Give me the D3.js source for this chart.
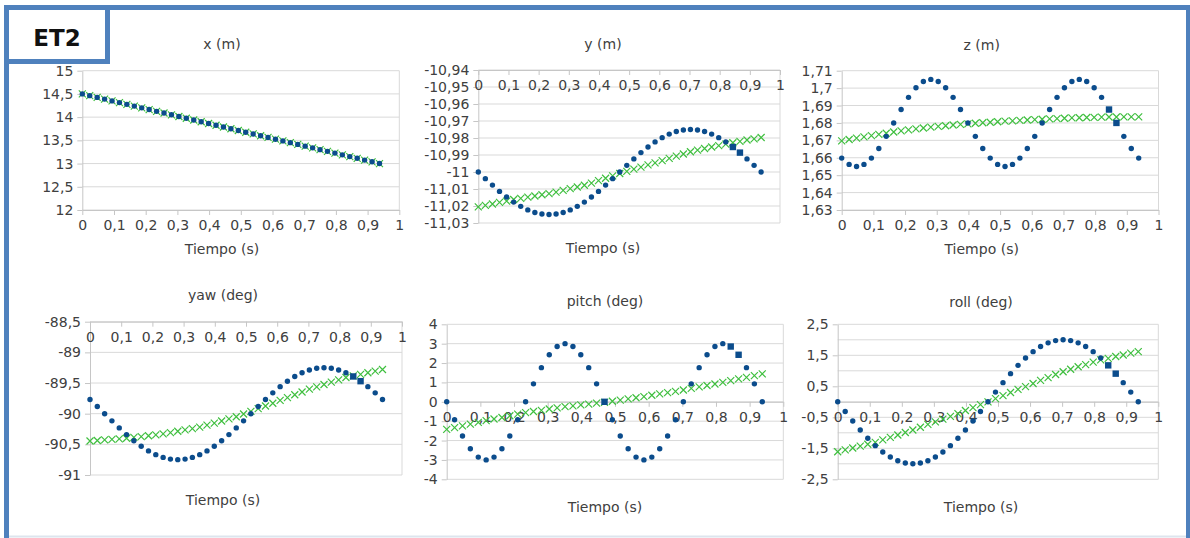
<!DOCTYPE html>
<html><head><meta charset="utf-8">
<script src="https://cdn.jsdelivr.net/npm/d3@7"></script>
<style>
html,body{margin:0;padding:0;background:#fff;}
svg{display:block;}
text{font-family:"DejaVu Sans",sans-serif;fill:#404040;}
</style></head>
<body>
<svg id="chart" width="1190" height="538"></svg>
<script>
// ---------- DATA ----------
const time = [0, 0.0234, 0.0469, 0.0703, 0.0938, 0.1172, 0.1406, 0.1641, 0.1875, 0.2109, 0.2344, 0.2578, 0.2813, 0.3047, 0.3281, 0.3516, 0.375, 0.3984, 0.4219, 0.4453, 0.4688, 0.4922, 0.5156, 0.5391, 0.5625, 0.5859, 0.6094, 0.6328, 0.6563, 0.6797, 0.7031, 0.7266, 0.75, 0.7734, 0.7969, 0.8203, 0.8438, 0.8672, 0.8906, 0.9141, 0.9375];

const xBlue = [14.5, 14.463, 14.425, 14.388, 14.35, 14.313, 14.275, 14.238, 14.2, 14.163, 14.125, 14.088, 14.05, 14.013, 13.975, 13.938, 13.9, 13.863, 13.825, 13.788, 13.75, 13.713, 13.675, 13.638, 13.6, 13.563, 13.525, 13.488, 13.45, 13.413, 13.375, 13.338, 13.3, 13.263, 13.225, 13.188, 13.15, 13.113, 13.075, 13.038, 13.0];
const xGreen = [14.5, 14.463, 14.425, 14.388, 14.35, 14.313, 14.275, 14.238, 14.2, 14.163, 14.125, 14.088, 14.05, 14.013, 13.975, 13.938, 13.9, 13.863, 13.825, 13.788, 13.75, 13.713, 13.675, 13.638, 13.6, 13.563, 13.525, 13.488, 13.45, 13.413, 13.375, 13.338, 13.3, 13.263, 13.225, 13.188, 13.15, 13.113, 13.075, 13.038, 13.0];

const yBlue = [-11.0, -11.0039, -11.0077, -11.0114, -11.0147, -11.0177, -11.0202, -11.0223, -11.0238, -11.0247, -11.025, -11.0247, -11.0238, -11.0223, -11.0202, -11.0177, -11.0147, -11.0114, -11.0077, -11.0039, -11.0, -10.9961, -10.9923, -10.9886, -10.9853, -10.9823, -10.9798, -10.9777, -10.9762, -10.9753, -10.975, -10.9753, -10.9762, -10.9777, -10.9798, -10.9823, -10.9853, -10.9886, -10.9923, -10.9961, -11.0];
const yGreen = [-11.0205, -11.0196, -11.0188, -11.0179, -11.0171, -11.0162, -11.0155, -11.0148, -11.0141, -11.0134, -11.0127, -11.0118, -11.0108, -11.0098, -11.0088, -11.0078, -11.0065, -11.0051, -11.0037, -11.0023, -11.0009, -10.9996, -10.9983, -10.9971, -10.9958, -10.9946, -10.9933, -10.992, -10.9907, -10.9894, -10.9881, -10.9871, -10.9862, -10.9853, -10.9845, -10.9836, -10.9828, -10.982, -10.9812, -10.9805, -10.9797];

const zBlue = [1.6598, 1.6562, 1.655, 1.6562, 1.6598, 1.6653, 1.6723, 1.68, 1.6877, 1.6947, 1.7002, 1.7038, 1.705, 1.7038, 1.7002, 1.6947, 1.6877, 1.68, 1.6723, 1.6653, 1.6598, 1.6562, 1.655, 1.6562, 1.6598, 1.6653, 1.6723, 1.68, 1.6877, 1.6947, 1.7002, 1.7038, 1.705, 1.7038, 1.7002, 1.6947, 1.6877, 1.68, 1.6723, 1.6653, 1.6598];
const zGreen = [1.6697, 1.6705, 1.6713, 1.672, 1.6727, 1.6734, 1.6741, 1.6748, 1.6754, 1.676, 1.6766, 1.6771, 1.6776, 1.678, 1.6784, 1.6788, 1.6792, 1.6795, 1.6798, 1.6801, 1.6804, 1.6807, 1.681, 1.6812, 1.6815, 1.6817, 1.6819, 1.6821, 1.6823, 1.6825, 1.6827, 1.6829, 1.683, 1.6831, 1.6832, 1.6833, 1.6834, 1.6834, 1.6835, 1.6835, 1.6835];

const yawBlue = [-89.768, -89.883, -90.0, -90.117, -90.232, -90.341, -90.441, -90.53, -90.607, -90.668, -90.713, -90.741, -90.75, -90.741, -90.713, -90.668, -90.607, -90.53, -90.441, -90.341, -90.232, -90.117, -90.0, -89.883, -89.768, -89.66, -89.559, -89.47, -89.393, -89.332, -89.287, -89.259, -89.25, -89.259, -89.287, -89.332, -89.393, -89.47, -89.559, -89.66, -89.768];
const yawGreen = [-90.446, -90.437, -90.428, -90.419, -90.41, -90.4, -90.387, -90.374, -90.36, -90.345, -90.33, -90.309, -90.287, -90.265, -90.243, -90.22, -90.187, -90.153, -90.119, -90.085, -90.05, -90.006, -89.962, -89.918, -89.874, -89.83, -89.784, -89.738, -89.692, -89.646, -89.6, -89.562, -89.524, -89.486, -89.448, -89.41, -89.384, -89.358, -89.332, -89.306, -89.28];

const pitchBlue = [0, -0.927, -1.763, -2.427, -2.853, -3, -2.853, -2.427, -1.763, -0.927, 0, 0.927, 1.763, 2.427, 2.853, 3, 2.853, 2.427, 1.763, 0.927, 0, -0.927, -1.763, -2.427, -2.853, -3, -2.853, -2.427, -1.763, -0.927, 0, 0.927, 1.763, 2.427, 2.853, 3, 2.853, 2.427, 1.763, 0.927, 0];
const pitchGreen = [-1.42, -1.33, -1.24, -1.15, -1.06, -0.97, -0.89, -0.81, -0.72, -0.64, -0.56, -0.5, -0.44, -0.37, -0.31, -0.25, -0.21, -0.16, -0.12, -0.07, -0.03, 0.03, 0.09, 0.15, 0.21, 0.27, 0.34, 0.41, 0.47, 0.54, 0.61, 0.69, 0.77, 0.84, 0.92, 1.0, 1.09, 1.18, 1.26, 1.35, 1.44];

const rollBlue = [0, -0.313, -0.618, -0.908, -1.176, -1.414, -1.618, -1.782, -1.902, -1.975, -2, -1.975, -1.902, -1.782, -1.618, -1.414, -1.176, -0.908, -0.618, -0.313, 0, 0.313, 0.618, 0.908, 1.176, 1.414, 1.618, 1.782, 1.902, 1.975, 2, 1.975, 1.902, 1.782, 1.618, 1.414, 1.176, 0.908, 0.618, 0.313, 0];
const rollGreen = [-1.61, -1.55, -1.49, -1.43, -1.37, -1.31, -1.23, -1.15, -1.07, -0.99, -0.91, -0.82, -0.73, -0.65, -0.56, -0.47, -0.38, -0.28, -0.19, -0.09, 0.0, 0.1, 0.2, 0.3, 0.4, 0.49, 0.59, 0.69, 0.78, 0.88, 0.97, 1.05, 1.13, 1.2, 1.28, 1.35, 1.4, 1.46, 1.51, 1.57, 1.62];

// indices drawn with square markers, per panel
const squareIdx = [[], [36, 37], [36, 37], [36, 37], [20, 36, 37], [36, 37]];

// tick values
const xTicks = [0, 0.1, 0.2, 0.3, 0.4, 0.5, 0.6, 0.7, 0.8, 0.9, 1];
const xTickLabels = ["0", "0,1", "0,2", "0,3", "0,4", "0,5", "0,6", "0,7", "0,8", "0,9", "1"];
const yTicksX = [12, 12.5, 13, 13.5, 14, 14.5, 15];
const yTicksY = [-11.03, -11.02, -11.01, -11, -10.99, -10.98, -10.97, -10.96, -10.95, -10.94];
const yTicksZ = [1.63, 1.64, 1.65, 1.66, 1.67, 1.68, 1.69, 1.7, 1.71];
const yTicksYaw = [-91, -90.5, -90, -89.5, -89, -88.5];
const yTicksPitch = [-4, -3, -2, -1, 0, 1, 2, 3, 4];
const yTicksRoll = [-2.5, -1.5, -0.5, 0.5, 1.5, 2.5];
const gridRoll = [-2.5, -2, -1.5, -1, -0.5, 0, 0.5, 1, 1.5, 2, 2.5];

const titles = ["x (m)", "y (m)", "z (m)", "yaw (deg)", "pitch (deg)", "roll (deg)"];
const xAxisTitle = "Tiempo (s)";
const badge = "ET2";

// ---------- LAYOUT ----------
const panels = [
  {title: titles[0], blue: xBlue, green: xGreen, dom: [12, 15], ticks: yTicksX, grid: yTicksX, cross: 12,
   L: 82.3, R: 399.3, T: 70.7, B: 210, cx: 222, ty: 44, xty: 249},
  {title: titles[1], blue: yBlue, green: yGreen, dom: [-11.03, -10.94], ticks: yTicksY, grid: yTicksY, cross: -10.94,
   L: 478.3, R: 780, T: 70, B: 223, cx: 603, ty: 44.3, xty: 248.3},
  {title: titles[2], blue: zBlue, green: zGreen, dom: [1.63, 1.71], ticks: yTicksZ, grid: yTicksZ, cross: 1.63,
   L: 841.7, R: 1158.5, T: 70.7, B: 210, cx: 981.7, ty: 45, xty: 249.3},
  {title: titles[3], blue: yawBlue, green: yawGreen, dom: [-91, -88.5], ticks: yTicksYaw, grid: yTicksYaw, cross: -88.5,
   L: 90, R: 402, T: 321.7, B: 475, cx: 223, ty: 295, xty: 500},
  {title: titles[4], blue: pitchBlue, green: pitchGreen, dom: [-4, 4], ticks: yTicksPitch, grid: yTicksPitch, cross: 0,
   L: 446.7, R: 783.3, T: 324.3, B: 479.3, cx: 605, ty: 300.7, xty: 506.7},
  {title: titles[5], blue: rollBlue, green: rollGreen, dom: [-2.5, 2.5], ticks: yTicksRoll, grid: gridRoll, cross: 0,
   L: 837.7, R: 1158.3, T: 324.3, B: 479.3, cx: 981, ty: 301.7, xty: 506.7}
];

const BLUE = "#0b4c8c", GREEN = "#3fbf3f", GRID = "#d9d9d9", AXIS = "#c6c6c6", FRAME = "#4f81bd";
const FS = 14;
const fmt = v => String(+v.toFixed(3)).replace(".", ",");

const svg = d3.select("#chart");
svg.append("rect").attr("width", 1190).attr("height", 538).attr("fill", "#fff");

panels.forEach((p, pi) => {
  const g = svg.append("g");
  const x = d3.scaleLinear().domain([0, 1]).range([p.L, p.R]);
  const y = d3.scaleLinear().domain(p.dom).range([p.B, p.T]);

  g.append("g").selectAll("line").data(p.grid).join("line")
    .attr("x1", p.L).attr("x2", p.R)
    .attr("y1", d => y(d)).attr("y2", d => y(d))
    .attr("stroke", GRID).attr("stroke-width", 1);
  g.append("line").attr("x1", p.R).attr("x2", p.R).attr("y1", p.T).attr("y2", p.B)
    .attr("stroke", GRID).attr("stroke-width", 1);

  const ya = g.append("g").attr("transform", `translate(${p.L},0)`)
    .call(d3.axisLeft(y).tickValues(p.ticks).tickFormat(fmt).tickSize(5).tickSizeOuter(0).tickPadding(4));
  ya.select(".domain").attr("stroke", AXIS);
  ya.selectAll(".tick line").attr("stroke", AXIS);
  ya.selectAll("text").attr("font-family", "DejaVu Sans").attr("font-size", FS).attr("fill", "#404040");

  const xa = g.append("g").attr("transform", `translate(0,${y(p.cross)})`)
    .call(d3.axisBottom(x).tickValues(xTicks).tickFormat((d, i) => xTickLabels[i]).tickSize(5).tickSizeOuter(0).tickPadding(5));
  xa.select(".domain").attr("stroke", AXIS);
  xa.selectAll(".tick line").attr("stroke", AXIS);
  xa.selectAll("text").attr("font-family", "DejaVu Sans").attr("font-size", FS).attr("fill", "#404040");

  g.append("g").selectAll("path").data(p.green).join("path")
    .attr("transform", (d, i) => `translate(${x(time[i])},${y(d)})`)
    .attr("d", "M-3.5,-3.5L3.5,3.5M-3.5,3.5L3.5,-3.5")
    .attr("stroke", GREEN).attr("stroke-width", 1.2).attr("fill", "none");

  const sq = squareIdx[pi];
  const bd = p.blue.map((v, i) => ({t: time[i], v, sq: sq.includes(i)}));
  g.append("g").selectAll("circle").data(bd.filter(d => !d.sq)).join("circle")
    .attr("cx", d => x(d.t)).attr("cy", d => y(d.v)).attr("r", 2.7).attr("fill", BLUE);
  g.append("g").selectAll("rect").data(bd.filter(d => d.sq)).join("rect")
    .attr("x", d => x(d.t) - 3.2).attr("y", d => y(d.v) - 3.2).attr("width", 6.4).attr("height", 6.4).attr("fill", BLUE);

  g.append("text").attr("x", p.cx).attr("y", p.ty).attr("dy", "0.36em").attr("text-anchor", "middle")
    .attr("font-size", FS).text(p.title);
  g.append("text").attr("x", p.cx).attr("y", p.xty).attr("dy", "0.36em").attr("text-anchor", "middle")
    .attr("font-size", FS).text(xAxisTitle);
});

// frame
svg.append("line").attr("x1", 9).attr("x2", 1186).attr("y1", 536.5).attr("y2", 536.5).attr("stroke", "#dde5ee").attr("stroke-width", 2);
svg.append("rect").attr("x", 4).attr("y", 5).attr("width", 1186).attr("height", 5).attr("fill", FRAME);
svg.append("rect").attr("x", 4).attr("y", 5).attr("width", 5).attr("height", 533).attr("fill", FRAME);
svg.append("rect").attr("x", 1186).attr("y", 5).attr("width", 4).attr("height", 533).attr("fill", FRAME);
svg.append("rect").attr("x", 6.5).attr("y", 7.5).attr("width", 101).attr("height", 54)
  .attr("fill", "#fff").attr("stroke", FRAME).attr("stroke-width", 5);
svg.append("text").attr("x", 57).attr("y", 38).attr("dy", "0.36em").attr("text-anchor", "middle")
  .attr("font-family", "Lato, 'DejaVu Sans', sans-serif").attr("font-weight", 700).attr("font-size", 23)
  .style("fill", "#111").text(badge);
</script>
</body></html>
